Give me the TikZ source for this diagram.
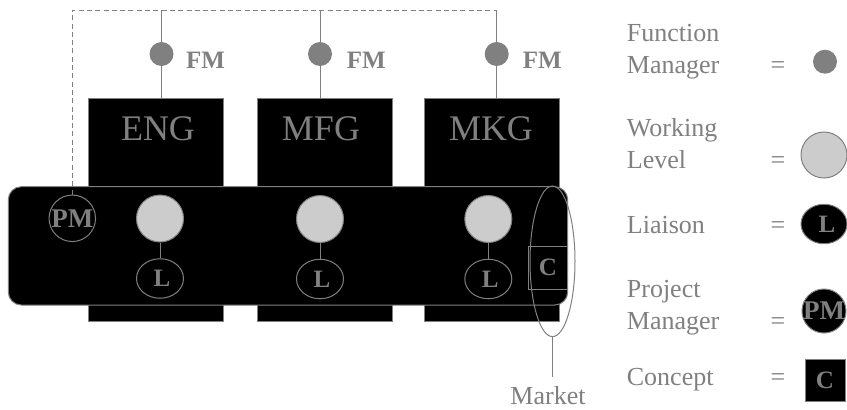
\documentclass[tikz,border=0pt]{standalone}
\usepackage{fontspec}
\setmainfont{Liberation Serif}
\usetikzlibrary{shapes.geometric}
\definecolor{tg}{RGB}{128,128,128}
\definecolor{wl}{RGB}{204,204,204}
\begin{document}
\begin{tikzpicture}[x=1pt,y=-1pt,
  conn/.style={draw=tg, line width=1pt},
  dept/.style={rectangle, draw=tg, fill=black, line width=1pt, minimum width=135pt, minimum height=223pt, inner sep=0pt},
  tubebox/.style={rectangle, draw=tg, fill=black, line width=1pt, rounded corners=13pt, minimum width=559.4pt, minimum height=118.3pt, inner sep=0pt},
  fmdot/.style={circle, fill=tg, minimum size=24pt, inner sep=0pt},
  work/.style={circle, draw=tg, fill=wl, line width=1pt, minimum size=47pt, inner sep=0pt},
  liaison/.style={ellipse, draw=tg, fill=black, line width=1pt, minimum width=47pt, minimum height=39.5pt, inner sep=0pt},
  pmc/.style={circle, draw=tg, fill=black, line width=1pt, minimum size=46.5pt, inner sep=0pt},
  conc/.style={rectangle, draw=tg, fill=black, line width=1pt, minimum width=39.5pt, minimum height=43pt, inner sep=0pt},
  mktell/.style={ellipse, draw=tg, line width=1pt, minimum width=45pt, minimum height=150.6pt, inner sep=0pt},
  lbl/.style={text=tg, inner sep=0pt, font=\fontsize{26}{32}\selectfont},
  big/.style={text=tg, inner sep=0pt, font=\fontsize{36}{40}\selectfont},
  bl/.style={text=tg, inner sep=0pt, font=\fontsize{25}{30}\selectfont\bfseries},
  blpm/.style={text=tg, inner sep=0pt, font=\fontsize{27}{30}\selectfont\bfseries},
]
\useasboundingbox (0,0) rectangle (847,410);

% department boxes
\node[dept] (eng) at (156,210.2) {};
\node[dept] (mfg) at (324.5,210.2) {};
\node[dept] (mkg) at (492,210.2) {};
\node[big, anchor=base] (englbl) at (158,140) {ENG};
\node[big, anchor=base] (mfglbl) at (321,140) {MFG};
\node[big, anchor=base] (mkglbl) at (491,140) {MKG};

% tube
\node[tubebox] (tube) at (288,245.85) {};

% top connectors
\coordinate (top1) at (161.5,10);
\coordinate (top2) at (320,10);
\coordinate (top3) at (496.7,10);
\node[fmdot] (fm1) at (161.5,54) {};
\node[fmdot] (fm2) at (320,54) {};
\node[fmdot] (fm3) at (496.7,54) {};
\draw[conn] (top1) -- (fm1.north);
\draw[conn] (top2) -- (fm2.north);
\draw[conn] (top3) -- (fm3.north);
\draw[conn] (fm1.south) -- (fm1 |- eng.north);
\draw[conn] (fm2.south) -- (fm2 |- mfg.north);
\draw[conn] (fm3.south) -- (fm3 |- mkg.north);
\node[bl, anchor=base] (fmt1) at (205.5,68) {FM};
\node[bl, anchor=base] (fmt2) at (366.3,68) {FM};
\node[bl, anchor=base] (fmt3) at (542.2,68) {FM};

% project manager
\node[pmc] (pm) at (72.3,218.3) {};
\node[blpm] at (pm.center) {PM};
\draw[conn, dash pattern=on 5pt off 3.3pt] (pm.north) |- (top3);

% working levels and liaisons
\node[work] (w1) at (160,218.5) {};
\node[work] (w2) at (320,219) {};
\node[work] (w3) at (488.3,219) {};
\node[liaison] (l1) at (160,278.5) {};
\node[liaison] (l2) at (320,279) {};
\node[liaison] (l3) at (488.3,279) {};
\draw[conn] (w1.south) -- (l1.north);
\draw[conn] (w2.south) -- (l2.north);
\draw[conn] (w3.south) -- (l3.north);
\node[bl] at ([xshift=2pt]l1.center) {L};
\node[bl] at ([xshift=2pt]l2.center) {L};
\node[bl] at ([xshift=2pt]l3.center) {L};

% concept and market
\node[conc] (c) at (548,267.7) {};
\node[bl] at (c.center) {C};
\node[mktell] (mkt) at (552.5,261.3) {};
\coordinate (mktend) at (552.5,376.7);
\draw[conn] (mkt.south) -- (mktend);
\node[lbl, anchor=base] (market) at (548,404.5) {Market};

% legend
\node[lbl, align=left, anchor=base west] (t1) at (626.7,73.3) {Function\\Manager};
\node[lbl, anchor=base] (e1) at (778,73.3) {=};
\node[fmdot] (s1) at (825,61.7) {};

\node[lbl, align=left, anchor=base west] (t2) at (626.7,168) {Working\\Level};
\node[lbl, anchor=base] (e2) at (778,168) {=};
\node[work, minimum size=46pt] (s2) at (824,155) {};

\node[lbl, anchor=base west] (t3) at (626.7,233) {Liaison};
\node[lbl, anchor=base] (e3) at (778,233) {=};
\node[liaison, minimum width=46pt] (s3) at (824,224) {};
\node[bl] at ([xshift=3pt]s3.center) {L};

\node[lbl, align=left, anchor=base west] (t4) at (626.7,329) {Project\\Manager};
\node[lbl, anchor=base] (e4) at (778,329) {=};
\node[pmc, minimum size=44pt] (s4) at (824,311) {};
\node[blpm] at (s4.center) {PM};

\node[lbl, anchor=base west] (t5) at (626.7,385) {Concept};
\node[lbl, anchor=base] (e5) at (778,385) {=};
\node[conc, minimum width=40pt, minimum height=42pt] (s5) at (825,380) {};
\node[bl] at (s5.center) {C};
\end{tikzpicture}
\end{document}
